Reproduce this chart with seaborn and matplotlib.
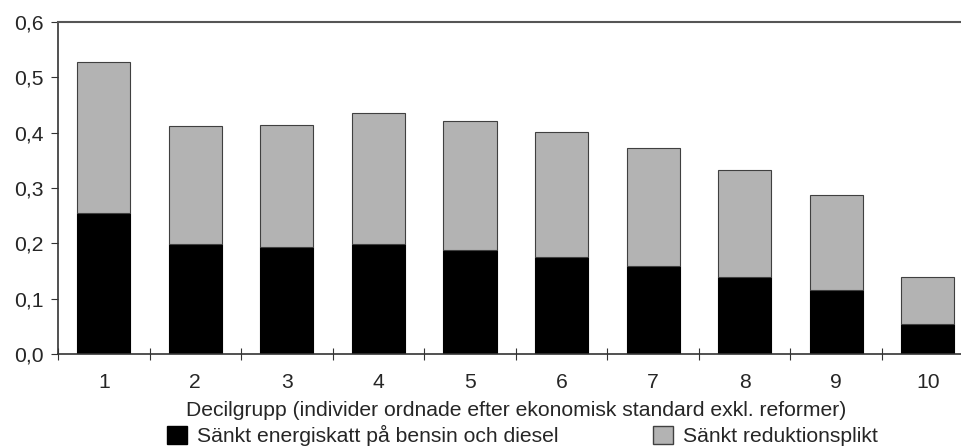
import matplotlib
matplotlib.use("Agg")
import matplotlib.pyplot as plt
from matplotlib.patches import Patch
from matplotlib.ticker import FixedLocator, FuncFormatter
import pandas as pd
import seaborn as sns

deciles = ["1", "2", "3", "4", "5", "6", "7", "8", "9", "10"]
energiskatt = [0.255, 0.198, 0.193, 0.199, 0.188, 0.175, 0.159, 0.139, 0.115, 0.055]
reduktionsplikt = [0.272, 0.215, 0.221, 0.236, 0.233, 0.226, 0.214, 0.194, 0.172, 0.085]
series_labels = ["Sänkt energiskatt på bensin och diesel", "Sänkt reduktionsplikt"]
xlabel = "Decilgrupp (individer ordnade efter ekonomisk standard exkl. reformer)"

df = pd.DataFrame({"decil": deciles, "energi": energiskatt, "reduktion": reduktionsplikt})

sns.set_style("white")
plt.rcParams["font.family"] = ["Liberation Sans", "DejaVu Sans"]
fs = 15.2

fig = plt.figure(figsize=(9.62, 4.47), dpi=100)
ax = fig.add_axes([0.0603, 0.208, 0.9517, 0.7427])

sns.barplot(data=df, x="decil", y="energi", color="black", width=0.58,
            edgecolor="black", linewidth=0.8, saturation=1, ax=ax)
sns.barplot(data=df, x="decil", y="reduktion", bottom=df["energi"], color="#b3b3b3",
            width=0.58, edgecolor="#404040", linewidth=0.8, saturation=1, ax=ax)

ax.set_xlim(-0.5, 9.5)
ax.set_ylim(0, 0.6)
ax.set_yticks([i / 10 for i in range(7)])
ax.yaxis.set_major_formatter(FuncFormatter(lambda v, p: f"{v:.1f}".replace(".", ",")))
ax.tick_params(axis="y", which="major", left=True, length=5, width=0.8, direction="out",
               color="#333333", labelsize=fs, pad=5)
ax.tick_params(axis="x", which="major", bottom=False, length=0, labelsize=fs, pad=14)
ax.xaxis.set_minor_locator(FixedLocator([i - 0.5 for i in range(11)]))
ax.tick_params(axis="x", which="minor", bottom=True, length=9, width=0.8,
               direction="inout", color="#333333")

for side in ["left", "bottom"]:
    ax.spines[side].set_color("#333333")
    ax.spines[side].set_linewidth(1.2)
ax.spines["top"].set_color("#555555")
ax.spines["top"].set_linewidth(1.5)
ax.spines["right"].set_visible(False)

ax.set_xlabel(xlabel, fontsize=fs, labelpad=6)
ax.set_ylabel("")

handles = [Patch(facecolor="black", edgecolor="black"),
           Patch(facecolor="#b3b3b3", edgecolor="#404040")]
fig.legend(handles, series_labels, loc="lower left", bbox_to_anchor=(0.154, -0.041),
           ncol=2, frameon=False, handlelength=0.95, handleheight=0.95,
           handletextpad=0.45, columnspacing=4.5, fontsize=fs)

fig.savefig("out.png", dpi=100)
